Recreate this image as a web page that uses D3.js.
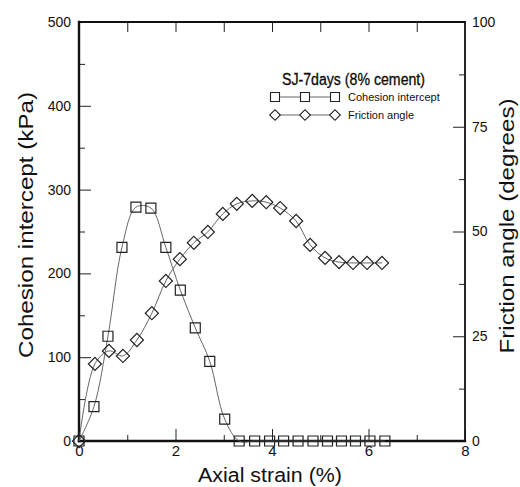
<!DOCTYPE html>
<html>
<head>
<meta charset="utf-8">
<script src="https://cdn.jsdelivr.net/npm/d3@7/dist/d3.min.js"></script>
<style>
    body { margin: 0; background: #fff; }
    svg text { font-family: "Liberation Sans", Arial, sans-serif; fill: #111; }
</style>
</head>
<body>
<div id="chart"></div>
<script>
// values
var strainC = [0, 0.31, 0.6, 0.89, 1.18, 1.49, 1.8, 2.1, 2.41, 2.71, 3.02,
    3.32, 3.64, 3.95, 4.24, 4.54, 4.85, 5.15, 5.44, 5.73, 6.03, 6.34];
var cohesion = [0, 41, 125, 231, 279, 278, 231, 180, 135, 95, 26,
    0, 0, 0, 0, 0, 0, 0, 0, 0, 0, 0];
var strainF = [0, 0.33, 0.62, 0.91, 1.2, 1.51, 1.8, 2.09, 2.38, 2.67, 2.98,
    3.27, 3.59, 3.88, 4.17, 4.5, 4.79, 5.1, 5.39, 5.68, 5.97, 6.28];
var friction = [0, 18.4, 21.5, 20.3, 24.1, 30.5, 38.2, 43.4, 47.3, 49.9, 54.2,
    56.6, 57.3, 57.0, 55.6, 52.5, 46.8, 43.7, 42.7, 42.5, 42.5, 42.5];

var xTicks = [0, 2, 4, 6, 8];
var xMinor = [1, 3, 5, 7];
var leftTicks = [0, 100, 200, 300, 400, 500];
var leftMinor = [50, 150, 250, 350, 450];
var rightTicks = [0, 25, 50, 75, 100];
var rightMinor = [12.5, 37.5, 62.5, 87.5];
var legendTitle = "SJ-7days (8% cement)";
var seriesNames = ["Cohesion intercept", "Friction angle"];

class StrainChart {
    constructor(width, height, selector) {
        this._width = width;
        this._height = height;
        this._selector = selector;
    }

    render() {
        var that = this;
        this._svg = d3.select(that._selector)
            .append('svg')
            .attr('width', that._width)
            .attr('height', that._height);

        this._xScale = d3.scaleLinear().domain([0, 8]).range([79, 465]);
        this._yScale = d3.scaleLinear().domain([0, 500]).range([441, 22]);
        this._rScale = d3.scaleLinear().domain([0, 100]).range([441, 22]);

        this.drawAxes();
        this.drawSeries();
        this.drawLegend();
        this.drawTitles();
    }

    // ticks point inward, no domain path; frame drawn separately
    addAxis(axis, tx, ty, size) {
        var g = this._svg.append('g')
            .attr('transform', `translate(${tx},${ty})`)
            .call(axis);
        g.select('.domain').remove();
        g.selectAll('line').attr('stroke', '#222').attr('stroke-width', 1);
        g.selectAll('text').style('font-size', size + 'px').attr('fill', '#111');
        return g;
    }

    drawAxes() {
        var x = this._xScale, y = this._yScale, r = this._rScale;
        var none = () => '';

        this.addAxis(d3.axisBottom(x).tickValues(xTicks).tickSize(-12).tickPadding(4), 0, 441, 15);
        this.addAxis(d3.axisBottom(x).tickValues(xMinor).tickSize(-6).tickFormat(none), 0, 441, 15);
        this.addAxis(d3.axisTop(x).tickValues(d3.range(1, 8)).tickSize(-10).tickFormat(none), 0, 22, 15);

        this.addAxis(d3.axisLeft(y).tickValues(leftTicks).tickSize(-12).tickPadding(8), 79, 0, 14);
        this.addAxis(d3.axisLeft(y).tickValues(leftMinor).tickSize(-6).tickFormat(none), 79, 0, 14);

        this.addAxis(d3.axisRight(r).tickValues(rightTicks).tickSize(-12).tickPadding(7), 465, 0, 14);
        this.addAxis(d3.axisRight(r).tickValues(rightMinor).tickSize(-6).tickFormat(none), 465, 0, 14);

        // frame
        var frame = [
            [x(0), y(0), x(8), y(0), 2.4],
            [x(0), y(0), x(0), y(500), 2.4],
            [x(0), y(500), x(8), y(500), 2],
            [x(8), y(0), x(8), y(500), 1.8]
        ];
        this._svg.append('g').selectAll('line').data(frame)
            .join('line')
            .attr('x1', d => d[0]).attr('y1', d => d[1])
            .attr('x2', d => d[2]).attr('y2', d => d[3])
            .attr('stroke', '#111')
            .attr('stroke-width', d => d[4])
            .attr('stroke-linecap', 'square');
    }

    drawSeries() {
        var that = this;
        var cData = strainC.map((s, i) => [s, cohesion[i]]);
        var fData = strainF.map((s, i) => [s, friction[i]]);

        var lineC = d3.line()
            .x(d => that._xScale(d[0]))
            .y(d => that._yScale(d[1]))
            .curve(d3.curveCatmullRom.alpha(0.5));
        var lineF = d3.line()
            .x(d => that._xScale(d[0]))
            .y(d => that._rScale(d[1]))
            .curve(d3.curveCatmullRom.alpha(0.5));

        this._svg.append('path').datum(cData)
            .attr('d', lineC)
            .attr('fill', 'none')
            .attr('stroke', '#555')
            .attr('stroke-width', 0.9);
        this._svg.append('path').datum(fData)
            .attr('d', lineF)
            .attr('fill', 'none')
            .attr('stroke', '#555')
            .attr('stroke-width', 0.9);

        var square = d3.symbol(d3.symbolSquare, 100);
        var diamond = d3.symbol(d3.symbolSquare, 86);

        this._svg.append('g').selectAll('path').data(cData)
            .join('path')
            .attr('d', square)
            .attr('transform', d => `translate(${that._xScale(d[0])},${that._yScale(d[1])})`)
            .attr('fill', 'none')
            .attr('stroke', '#222')
            .attr('stroke-width', 1.2);

        this._svg.append('g').selectAll('path').data(fData)
            .join('path')
            .attr('d', diamond)
            .attr('transform', d => `translate(${that._xScale(d[0])},${that._rScale(d[1])}) rotate(45)`)
            .attr('fill', 'none')
            .attr('stroke', '#222')
            .attr('stroke-width', 1.2);
    }

    drawLegend() {
        var g = this._svg.append('g');
        g.append('text')
            .attr('x', 282).attr('y', 85)
            .attr('textLength', 143).attr('lengthAdjust', 'spacingAndGlyphs')
            .style('font-size', '16px')
            .attr('fill', '#000')
            .attr('stroke', '#000').attr('stroke-width', 0.3)
            .text(legendTitle);

        var rows = [
            { name: seriesNames[0], y: 97, sym: d3.symbol(d3.symbolSquare, 81), rot: 0 },
            { name: seriesNames[1], y: 115, sym: d3.symbol(d3.symbolSquare, 56), rot: 45 }
        ];
        var xs = [275, 305, 335];
        rows.forEach(row => {
            g.append('line')
                .attr('x1', xs[0]).attr('x2', xs[2])
                .attr('y1', row.y).attr('y2', row.y)
                .attr('stroke', '#555').attr('stroke-width', 0.9);
            g.append('g').selectAll('path').data(xs)
                .join('path')
                .attr('d', row.sym)
                .attr('transform', d => `translate(${d},${row.y}) rotate(${row.rot})`)
                .attr('fill', 'white')
                .attr('stroke', '#222')
                .attr('stroke-width', 1.1);
            g.append('text')
                .attr('x', 348).attr('y', row.y + 4)
                .style('font-size', '11px')
                .attr('fill', '#333')
                .text(row.name);
        });
    }

    drawTitles() {
        this._svg.append('text')
            .attr('x', 270).attr('y', 482)
            .attr('text-anchor', 'middle')
            .attr('textLength', 144).attr('lengthAdjust', 'spacingAndGlyphs')
            .style('font-size', '20px')
            .text('Axial strain (%)');

        this._svg.append('text')
            .attr('transform', 'translate(33,225) rotate(-90)')
            .attr('text-anchor', 'middle')
            .attr('textLength', 266).attr('lengthAdjust', 'spacingAndGlyphs')
            .style('font-size', '21px')
            .text('Cohesion intercept (kPa)');

        this._svg.append('text')
            .attr('transform', 'translate(514,226) rotate(-90)')
            .attr('text-anchor', 'middle')
            .attr('textLength', 255).attr('lengthAdjust', 'spacingAndGlyphs')
            .style('font-size', '21px')
            .text('Friction angle (degrees)');
    }
}

var chart = new StrainChart(520, 487, '#chart');
chart.render();
</script>
</body>
</html>
